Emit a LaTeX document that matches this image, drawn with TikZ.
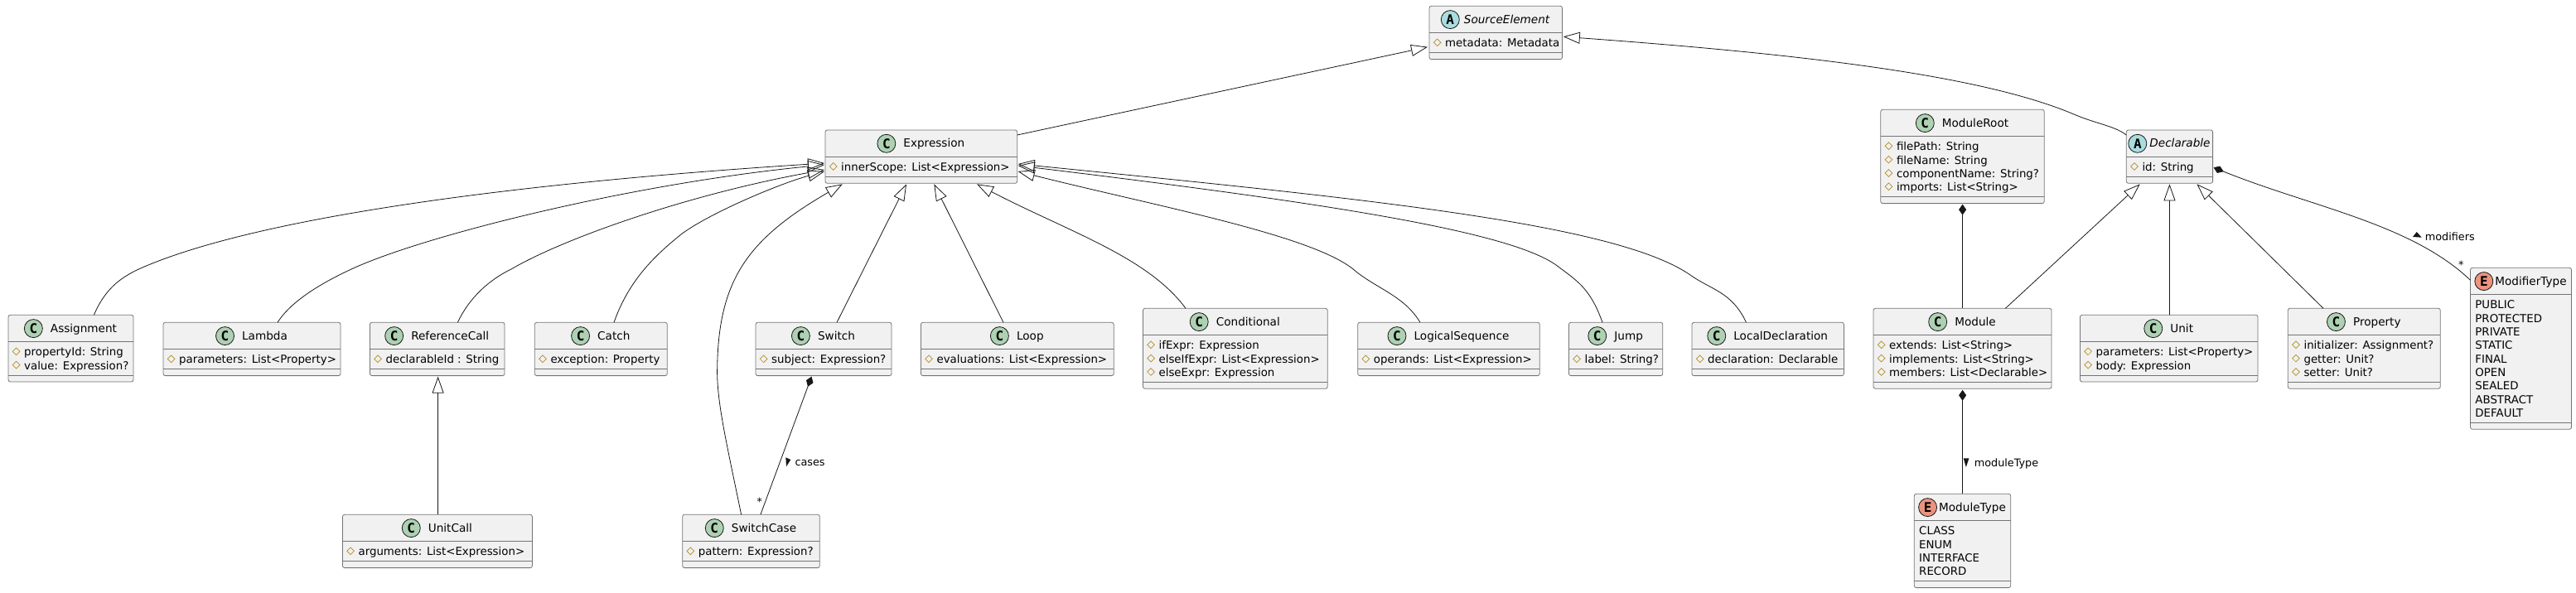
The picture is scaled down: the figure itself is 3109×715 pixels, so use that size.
\documentclass[tikz,border=0pt]{standalone}
\usepackage{fontspec}
\setmainfont{DejaVu Sans}
\newfontfamily\spotfont{DejaVu Sans Mono}
\usetikzlibrary{shapes}
\usetikzlibrary{arrows.meta}
\usetikzlibrary{positioning}
\definecolor{box_fill}{HTML}{F1F1F1}
\definecolor{box_line}{HTML}{181818}
\definecolor{prot_col}{HTML}{B38D22}
\definecolor{green_spot}{HTML}{ADD1B2}
\definecolor{blue_spot}{HTML}{A9DCDF}
\definecolor{red_spot}{HTML}{EB937F}
\tikzset{
	uml_box/.style = {rectangle, draw=box_line!60, fill=box_fill, line width=0.8pt,
		rounded corners=2.5pt, inner sep=0pt, outer sep=0pt, anchor=north west},
	uml_sep/.style = {draw=box_line!60, line width=0.8pt},
	uml_title/.style = {inner sep=0pt, anchor=base, text height=11.5pt, text depth=2.7pt,
		font=\fontsize{13.6}{16}\selectfont},
	uml_spot/.style = {circle, draw=box_line, line width=0.8pt, inner sep=0pt,
		minimum size=22pt, font=\spotfont\bfseries\fontsize{16}{16}\selectfont},
	uml_c/.style = {uml_spot, fill=green_spot, node contents=C},
	uml_a/.style = {uml_spot, fill=blue_spot, node contents=A},
	uml_e/.style = {uml_spot, fill=red_spot, node contents=E},
	attr_text/.style = {inner sep=0pt, anchor=base west, text height=13pt, text depth=2.2pt,
		font=\fontsize{13.35}{16}\selectfont},
	prot_mark/.style = {diamond, draw=prot_col, line width=0.7pt, inner sep=0pt, minimum size=9pt},
	label_text/.style = {inner sep=0pt, anchor=base west, font=\fontsize{12.8}{15}\selectfont},
	ext_line/.style = {draw=box_line, line width=0.8pt, -{Triangle[open,length=20pt,width=14pt]}},
	comp_line/.style = {draw=box_line, line width=0.8pt, {Diamond[length=13pt,width=9pt]}-}
}
% box with header: [gap]{name}{x}{y}{width}{lines}{spot style}{title}
\newcommand{\umlbox}[8][9]{
	\pgfmathsetmacro{\boxh}{48+16.33*#6}
	\node[uml_box, minimum width=#5pt, minimum height=\boxh pt] (#2) at (#3,#4) {};
	\coordinate (#2-hdr) at (#3,{#4+32});
	\draw[uml_sep] (#2-hdr) -- ++(#5,0);
	\draw[uml_sep] (#3,{#4+40+16.33*#6}) -- ++(#5,0);
	\node[uml_title] (#2-title) at ({#3+#5/2+(22+#1)/2},{#4+20.7}) {#8};
	\node[#7, name=#2-spot, left=#1pt of #2-title];
}
\newcommand{\attrlist}[2]{
	\foreach \txt [count=\i] in {#2} {
		\path (#1-hdr) ++(19,{1.07+16.33*\i}) node[attr_text] (#1-t\i) {\txt};
		\node[prot_mark, left=4.5pt of #1-t\i] (#1-m\i) {};
	}
}
\newcommand{\enumlist}[2]{
	\foreach \txt [count=\i] in {#2} {
		\path (#1-hdr) ++(5.7,{1.07+16.33*\i}) node[attr_text] (#1-t\i) {\txt};
	}
}
\begin{document}
\begin{tikzpicture}[x=1pt,y=-1pt]
	\useasboundingbox (0,0) rectangle (3109,715);
	% top row
	\umlbox[5]{SourceElement}{1725}{7.3}{160.5}{1}{uml_a}{\textit{SourceElement}}
	\attrlist{SourceElement}{metadata: Metadata}
	\umlbox{Expression}{996}{157}{231.7}{1}{uml_c}{Expression}
	\attrlist{Expression}{innerScope: List<Expression>}
	\umlbox{ModuleRoot}{2269.8}{132.3}{197.4}{4}{uml_c}{ModuleRoot}
	\attrlist{ModuleRoot}{filePath: String,fileName: String,componentName: String?,imports: List<String>}
	\umlbox[3]{Declarable}{2566.3}{157}{104.3}{1}{uml_a}{\textit{Declarable}}
	\attrlist{Declarable}{id: String}
	% expression subclasses
	\umlbox{Assignment}{10}{380.3}{151}{2}{uml_c}{Assignment}
	\attrlist{Assignment}{propertyId: String,value: Expression?}
	\umlbox{Lambda}{197}{389.3}{214}{1}{uml_c}{Lambda}
	\attrlist{Lambda}{parameters: List<Property>}
	\umlbox{ReferenceCall}{446.4}{389.3}{162.6}{1}{uml_c}{ReferenceCall}
	\attrlist{ReferenceCall}{declarableId : String}
	\umlbox{Catch}{645.3}{389.3}{160}{1}{uml_c}{Catch}
	\attrlist{Catch}{exception: Property}
	\umlbox{Switch}{912}{389.3}{164}{1}{uml_c}{Switch}
	\attrlist{Switch}{subject: Expression?}
	\umlbox{Loop}{1111.4}{389.3}{232.8}{1}{uml_c}{Loop}
	\attrlist{Loop}{evaluations: List<Expression>}
	\umlbox{Conditional}{1379.4}{372.3}{222.8}{3}{uml_c}{Conditional}
	\attrlist{Conditional}{ifExpr: Expression,elseIfExpr: List<Expression>,elseExpr: Expression}
	\umlbox{LogicalSequence}{1638.7}{389.3}{219.5}{1}{uml_c}{LogicalSequence}
	\attrlist{LogicalSequence}{operands: List<Expression>}
	\umlbox{Jump}{1893.4}{389.3}{113.4}{1}{uml_c}{Jump}
	\attrlist{Jump}{label: String?}
	\umlbox{LocalDeclaration}{2042}{389.3}{183.4}{1}{uml_c}{LocalDeclaration}
	\attrlist{LocalDeclaration}{declaration: Declarable}
	\umlbox{UnitCall}{413.4}{621.3}{229}{1}{uml_c}{UnitCall}
	\attrlist{UnitCall}{arguments: List<Expression>}
	\umlbox{SwitchCase}{823.7}{621.3}{165.6}{1}{uml_c}{SwitchCase}
	\attrlist{SwitchCase}{pattern: Expression?}
	% declarable subclasses
	\umlbox{Module}{2261}{372.3}{215}{3}{uml_c}{Module}
	\attrlist{Module}{extends: List<String>,implements: List<String>,members: List<Declarable>}
	\umlbox{Unit}{2510.4}{380.3}{214.6}{2}{uml_c}{Unit}
	\attrlist{Unit}{parameters: List<Property>,body: Expression}
	\umlbox{Property}{2761.3}{372.3}{184}{3}{uml_c}{Property}
	\attrlist{Property}{initializer: Assignment?,getter: Unit?,setter: Unit?}
	% enums
	\umlbox[2]{ModifierType}{2981.5}{323.3}{122}{9}{uml_e}{ModifierType}
	\enumlist{ModifierType}{PUBLIC,PROTECTED,PRIVATE,STATIC,FINAL,OPEN,SEALED,ABSTRACT,DEFAULT}
	\umlbox[2]{ModuleType}{2310.3}{596.3}{116.4}{4}{uml_e}{ModuleType}
	\enumlist{ModuleType}{CLASS,ENUM,INTERFACE,RECORD}
	% inheritance
	\draw[ext_line] ([yshift=-6pt]Expression.north east) -- ([xshift=-2pt,yshift=-49.4pt]SourceElement.north west);
	\draw[ext_line] ([yshift=-6pt]Declarable.north west) .. controls (2552,152) and (2530,149.5) .. (2503,138)
		.. controls (2390,90) and (2170,65) .. ([xshift=1.3pt,yshift=-37pt]SourceElement.north east);
	\draw[ext_line] ([xshift=103.4pt]Assignment.north west) .. controls (128,346) and (149,332) .. (179,320)
		.. controls (300,270) and (560,225) .. ([xshift=-1pt,yshift=-40pt]Expression.north west);
	\draw[ext_line] ([xshift=138pt]Lambda.north west) .. controls (353,361) and (394,339) .. (424,325)
		.. controls (510,285) and (760,222) .. ([xshift=-1pt,yshift=-42pt]Expression.north west);
	\draw[ext_line] ([xshift=106pt]ReferenceCall.north west) .. controls (566,360) and (590,338) .. (617,325)
		.. controls (680,288) and (830,235) .. ([xshift=-1pt,yshift=-48pt]Expression.north west);
	\draw[ext_line] ([xshift=95.7pt]Catch.north west) .. controls (760,335) and (795,305) .. (822,283)
		.. controls (855,258) and (940,222) .. ([xshift=-1pt,yshift=-50pt]Expression.north west);
	\draw[ext_line] ([xshift=70.9pt]SwitchCase.north west) .. controls (878,540) and (866,490) .. (865.6,450)
		.. controls (866,340) and (900,290) .. ([xshift=20.8pt,yshift=-1pt]Expression.south west);
	\draw[ext_line] ([xshift=98pt]Switch.north west) -- ([xshift=98pt,yshift=-1pt]Expression.south west);
	\draw[ext_line] ([xshift=99.6pt]Loop.north west) -- ([xshift=131.3pt,yshift=-1pt]Expression.south west);
	\draw[ext_line] ([xshift=51.6pt]Conditional.north west) .. controls (1385,310) and (1290,280)
		.. ([xshift=183pt,yshift=-1pt]Expression.south west);
	\draw[ext_line] ([xshift=75.3pt]LogicalSequence.north west) .. controls (1695,358) and (1665,350) .. (1636.7,328)
		.. controls (1590,285) and (1400,250) .. ([xshift=1pt,yshift=-50pt]Expression.north east);
	\draw[ext_line] ([xshift=40.6pt]Jump.north west) .. controls (1920,350) and (1905,340) .. (1882,323)
		.. controls (1830,280) and (1600,245) .. ([xshift=1pt,yshift=-43pt]Expression.north east);
	\draw[ext_line] ([xshift=65.5pt]LocalDeclaration.north west) .. controls (2090,352) and (2065,350) .. (2040,332)
		.. controls (1950,270) and (1650,240) .. ([xshift=1pt,yshift=-41pt]Expression.north east);
	\draw[ext_line] ([xshift=115.2pt]UnitCall.north west) -- ([xshift=0.9pt,yshift=-1pt]ReferenceCall.south);
	\draw[ext_line] ([xshift=159.4pt]Module.north west) -- ([xshift=16.4pt,yshift=-1pt]Declarable.south west);
	\draw[ext_line] ([xshift=0.8pt]Unit.north) -- ([yshift=-1pt]Declarable.south);
	\draw[ext_line] ([xshift=42.7pt]Property.north west) -- ([xshift=85.2pt,yshift=-1pt]Declarable.south west);
	% composition
	\draw[comp_line] ([xshift=0.1pt,yshift=-1pt]ModuleRoot.south) -- ([xshift=0.1pt]Module.north);
	\draw[comp_line] ([xshift=0.1pt,yshift=-1.5pt]Module.south) -- ([xshift=0.1pt]ModuleType.north);
	\draw[comp_line] ([xshift=67.5pt,yshift=-1pt]Switch.south west) -- ([xshift=94.2pt]SwitchCase.north west);
	\draw[comp_line] ([xshift=1pt,yshift=-45.3pt]Declarable.north east) .. controls (2790,250) and (2910,270)
		.. ([yshift=-15pt]ModifierType.north west);
	% labels
	\node[label_text] (cases-lbl) at (959.3,562.7) {cases};
	\node[label_text] (moduleType-lbl) at (2382.6,563.3) {moduleType};
	\node[label_text] (modifiers-lbl) at (2926.7,290) {modifiers};
	\node[label_text] (cases-card) at (913.5,610) {*};
	\node[label_text] (modifiers-card) at (2966.8,324) {*};
	\fill[box_line] (948.3,552.3) -- (954.3,555) -- (949,563.3) -- cycle;
	\fill[box_line] (2369.7,553.3) -- (2376.4,553.3) -- (2372.8,564) -- cycle;
	\fill[box_line] (2916.7,280) -- (2912,286) -- (2922.7,286.7) -- cycle;
\end{tikzpicture}
\end{document}
